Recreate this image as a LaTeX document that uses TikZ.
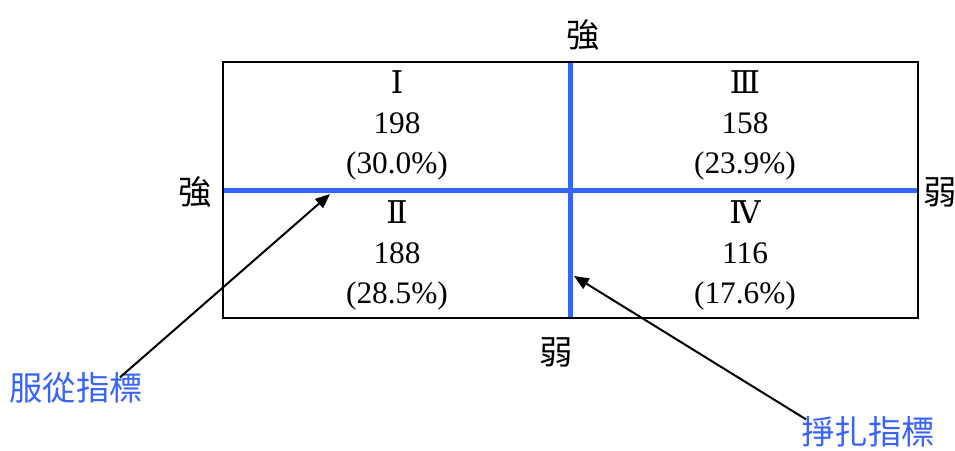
\documentclass[tikz,border=0pt]{standalone}
\usepackage{fontspec}
\setmainfont{Liberation Serif}
\newfontfamily\cjk{Noto Sans CJK TC}
\newfontfamily\romfont{DejaVu Serif}
\usetikzlibrary{arrows.meta,calc}
\definecolor{axisblue}{RGB}{55,100,250}

\begin{document}
\begin{tikzpicture}[
  x=0.75pt, y=-0.75pt,
  every node/.style={font=\fontsize{23.5}{30}\selectfont, inner sep=0pt},
  quad/.style={align=center},
  dirlbl/.style={font=\fontsize{25}{30}\selectfont\cjk},
  idxlbl/.style={font=\fontsize{25}{30}\selectfont\cjk, text=axisblue},
  axisline/.style={draw=axisblue, line width=3.75pt},
  arr/.style={-{Triangle[length=11pt, width=9pt]}, line width=1.5pt}
]
  \useasboundingbox (0,0) rectangle (955,450);

  % frame and axes
  \coordinate (tl) at (223,62);
  \coordinate (br) at (918,318);
  \draw[axisline] (223,190) -- (918,190);
  \draw[axisline] (570,62) -- (570,318);
  \draw[line width=1.5pt] (tl) rectangle (br);

  % quadrants
  \node[quad] (q1) at (397,125) {{\romfont Ⅰ}\\198\\(30.0\%)};
  \node[quad] (q3) at (745,125) {{\romfont Ⅲ}\\158\\(23.9\%)};
  \node[quad] (q2) at (397,255) {{\romfont Ⅱ}\\188\\(28.5\%)};
  \node[quad] (q4) at (745,255) {{\romfont Ⅳ}\\116\\(17.6\%)};

  % axis ends
  \node[dirlbl] (top) at (583,35) {強};
  \node[dirlbl] (left) at (195,192) {強};
  \node[dirlbl] (right) at (940,192) {弱};
  \node[dirlbl] (bottom) at (556,352) {弱};

  % indicators
  \node[idxlbl] (obey) at (76,388) {服從指標};
  \node[idxlbl] (strug) at (868,432) {掙扎指標};
  \coordinate (hitA) at (330,194);
  \coordinate (hitB) at (574,276);
  \draw[arr] ($(obey.north)+(44,5)$) -- (hitA);
  \draw[arr] ($(strug.north west)+(5,3)$) -- (hitB);
\end{tikzpicture}
\end{document}
